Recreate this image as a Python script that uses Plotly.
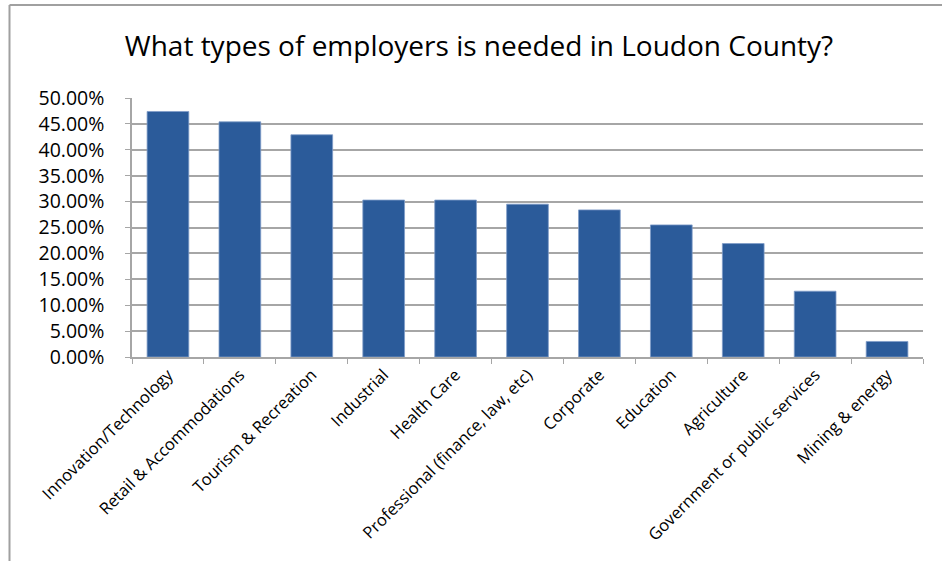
import plotly.graph_objects as go

# Survey results: share of respondents naming each employer type
categories = [
    "Innovation/Technology",
    "Retail & Accommodations",
    "Tourism & Recreation",
    "Industrial",
    "Health Care",
    "Professional (finance, law, etc)",
    "Corporate",
    "Education",
    "Agriculture",
    "Government or public services",
    "Mining & energy",
]
shares = [0.474, 0.454, 0.429, 0.303, 0.303, 0.295, 0.284, 0.255, 0.219, 0.127, 0.030]
y_ticks = [0.0, 0.05, 0.10, 0.15, 0.20, 0.25, 0.30, 0.35, 0.40, 0.45, 0.50]
y_tick_text = [f"{v * 100:.2f}%" for v in y_ticks]

W, H = 942, 561
ML, MR, MT, MB = 132, 19, 98, 204
plot_w = W - ML - MR
plot_h = H - MT - MB

BAR = "#2B5B9A"
GRID = "#A6A6A6"
FONT = "Open Sans, Noto Sans, sans-serif"

fig = go.Figure(
    go.Bar(
        x=categories,
        y=shares,
        marker=dict(color=BAR, line=dict(color="#7F9CC8", width=0.8)),
    )
)

# outer frame of the chart block (left and top edges)
fx0 = (9.5 - ML) / plot_w
fy0 = 1 + (MT - 5) / plot_h
fig.add_shape(type="line", xref="paper", yref="paper",
              x0=fx0, x1=fx0, y0=fy0, y1=-(MB + 10) / plot_h,
              line=dict(color="#A0A0A0", width=2))
fig.add_shape(type="line", xref="paper", yref="paper",
              x0=fx0, x1=(W - ML + 10) / plot_w, y0=fy0, y1=fy0,
              line=dict(color="#A0A0A0", width=2))

fig.update_layout(
    width=W,
    height=H,
    margin=dict(l=ML, r=MR, t=MT, b=MB, pad=0),
    paper_bgcolor="white",
    plot_bgcolor="white",
    bargap=0.42,
    showlegend=False,
    font=dict(family=FONT, color="#000000"),
    title=dict(
        text="What types of employers is needed in Loudon County?",
        x=479 / W,
        xref="container",
        xanchor="center",
        y=1 - 46 / H,
        yref="container",
        yanchor="middle",
        font=dict(family=FONT, size=28, color="#000000"),
    ),
    xaxis=dict(
        tickangle=-45,
        tickfont=dict(family=FONT, size=16.5, color="#000000"),
        showline=True,
        linecolor=GRID,
        linewidth=1.5,
        ticks="outside",
        tickson="boundaries",
        ticklen=5,
        tickcolor=GRID,
        showgrid=False,
    ),
    yaxis=dict(
        range=[0, 0.5],
        tickvals=y_ticks,
        ticktext=y_tick_text,
        tickfont=dict(family=FONT, size=19.5, color="#000000"),
        showline=True,
        linecolor=GRID,
        linewidth=1.5,
        ticks="outside",
        ticklen=5,
        tickcolor=GRID,
        showgrid=True,
        gridcolor=GRID,
        gridwidth=1.5,
        zeroline=False,
        ticklabelstandoff=17,
    ),
)

fig.write_html("out.html")
